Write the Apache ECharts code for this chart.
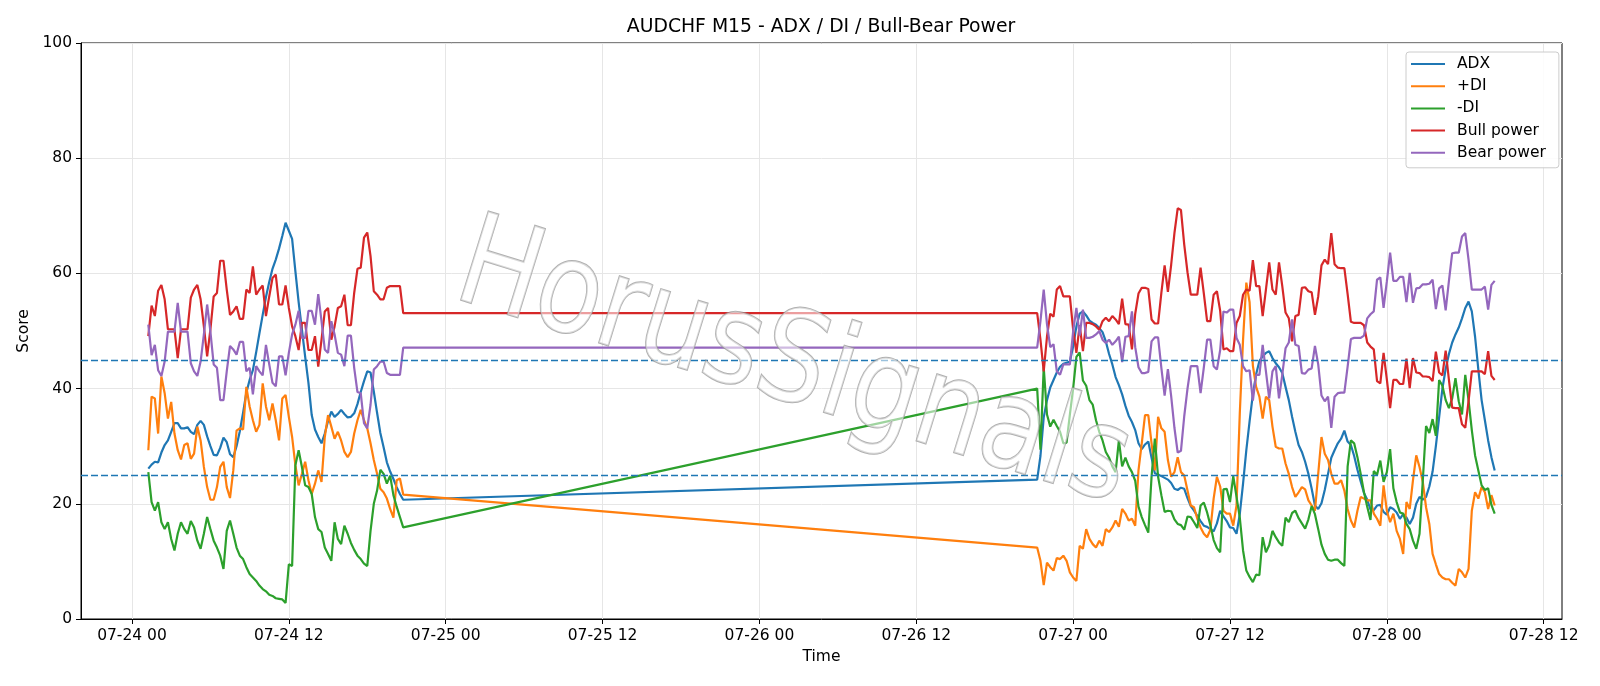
<!DOCTYPE html>
<html>
<head>
<meta charset="utf-8">
<title>AUDCHF M15 - ADX / DI / Bull-Bear Power</title>
<script src="https://cdn.jsdelivr.net/npm/echarts@6/dist/echarts.min.js"></script>
<style>
  html, body { margin: 0; padding: 0; background: #fff; }
  #chart { width: 1600px; height: 686px; }
</style>
</head>
<body>
<div id="chart"></div>
<script>
// M15 bars, two sessions with the weekend gap between them
const year = 2020
const seg1Start = '07-24 01:15'
const seg2Start = '07-26 21:15'

const xTickLabels = ['07-24 00', '07-24 12', '07-25 00', '07-25 12', '07-26 00',
  '07-26 12', '07-27 00', '07-27 12', '07-28 00', '07-28 12']
const yTicks = [0, 20, 40, 60, 80, 100]
const levels = [25, 45]

// session 1 (07-24 01:15 .. 20:45)
const adx1 = [26.1, 26.8, 27.3, 27.2, 28.9, 30.2, 31, 32.5, 34, 34,
  33.1, 33.1, 33.3, 32.5, 32.1, 33.7, 34.4, 33.7, 31.7, 30,
  28.5, 28.4, 29.7, 31.5, 30.7, 28.6, 28.1, 30, 32.6, 35.8,
  39.3, 41.5, 43.2, 46.3, 49.6, 52.8, 55.9, 58.5, 60.8, 62.4,
  64.3, 66.5, 68.8, 67.4, 66, 60.4, 55, 50.3, 45.5, 41,
  35.4, 32.9, 31.6, 30.5, 32.2, 34.4, 36, 35.1, 35.6, 36.3,
  35.6, 35, 35.1, 35.7, 37.3, 39.4, 41.3, 43, 42.8, 39.5,
  35.8, 32.3, 29.8, 27.2, 25.6, 24.3, 22.9, 21.7, 20.7]
const pdi1 = [29.3, 38.6, 38.3, 32.2, 42.1, 39.2, 34.8, 37.7, 32.2, 29.3,
  27.7, 30.2, 30.5, 27.8, 28.7, 33.4, 31, 26.4, 22.9, 20.7,
  20.7, 22.9, 26.4, 27.3, 22.9, 21, 25.8, 32.7, 33.1, 32.9,
  40.3, 36.9, 34.5, 32.5, 33.7, 40.9, 36.9, 34.5, 37.4, 34.5,
  31, 38.3, 38.9, 35.1, 31.6, 26.7, 23.2, 25.2, 27.3, 24.1,
  21.7, 23.5, 25.8, 23.8, 31.6, 35.4, 33.4, 31.3, 32.5, 31,
  29, 28.1, 29, 32.2, 34.5, 36.3, 34.5, 33.1, 30.5, 27.6,
  25.2, 22.6, 22, 20.9, 19.1, 17.6, 24.1, 24.4, 21.6]
const mdi1 = [25.5, 20.3, 18.8, 20.3, 16.8, 15.6, 16.8, 13.9, 11.9, 14.8,
  16.8, 15.6, 14.8, 17, 15.9, 13.6, 12.2, 14.8, 17.7, 15.6,
  13.6, 12.4, 11, 8.7, 15.3, 17.1, 14.8, 12.4, 11, 10.4,
  9, 7.8, 7.2, 6.6, 5.8, 5.2, 4.8, 4.2, 4, 3.6,
  3.5, 3.4, 2.8, 9.5, 9.2, 26.7, 29.3, 26.4, 23.2, 22.9,
  21.7, 17.7, 15.6, 15.1, 12.4, 11.3, 10.1, 16.8, 13.9, 13,
  16.2, 14.8, 13.2, 12, 11, 10.4, 9.6, 9.2, 15.3, 20,
  22.3, 25.9, 25.2, 23.5, 24.9, 21.5, 19.5, 17.7, 15.9]
const bull1 = [49.1, 54.4, 52.6, 57, 58, 55.5, 50.3, 50.3, 50.3, 45.3,
  50.3, 50.3, 50.3, 55.8, 57.2, 58, 55.5, 50.8, 45.6, 50.3,
  56, 56.6, 62.2, 62.2, 57.2, 52.8, 53.4, 54.3, 52.1, 52.1,
  57.2, 56.6, 61.2, 56.3, 57.2, 57.9, 52.6, 56, 59.2, 59.8,
  54.6, 54.6, 57.9, 54, 50.8, 49.1, 46.7, 51.4, 51.4, 46.7,
  46.7, 49.1, 43.8, 48.5, 53.4, 54, 48.5, 50.8, 54, 54.3,
  56.3, 51, 51, 56.6, 60.8, 61, 66.2, 67.1, 63, 56.9,
  56.3, 55.5, 55.5, 57.5, 57.8, 57.8, 57.8, 57.8, 53.1]
const bear1 = [51.1, 45.8, 47.6, 43.2, 42.2, 44.7, 49.9, 49.9, 49.9, 54.9,
  49.9, 49.9, 49.9, 44.4, 43, 42.2, 44.7, 49.4, 54.6, 49.9,
  44.2, 43.6, 38, 38, 43, 47.4, 46.8, 45.9, 48.1, 48.1,
  43, 43.6, 39, 43.9, 43, 42.3, 47.6, 44.2, 41, 40.4,
  45.6, 45.6, 42.3, 46.2, 49.4, 51.1, 53.5, 48.8, 48.8, 53.5,
  53.5, 51.1, 56.4, 51.7, 46.8, 46.2, 51.7, 49.4, 46.2, 45.9,
  43.9, 49.2, 49.2, 43.6, 39.4, 39.2, 34, 33.1, 37.2, 43.3,
  43.9, 44.7, 44.7, 42.7, 42.4, 42.4, 42.4, 42.4, 47.1]

// session 2 (07-26 21:15 .. 07-28 08:15)
const adx2 = [24.2, 28.3, 35, 38, 40.2, 41.5, 42.8, 43.8, 44.3, 44.5,
  44.7, 47.3, 50.8, 53, 53.4, 52.7, 51.8, 51.4, 51.1, 50.5,
  49.8, 48.2, 46, 44.2, 42, 40.6, 39, 37, 35.3, 34.2,
  32.8, 30.5, 29.5, 30.3, 30.8, 28, 25.3, 25.1, 24.8, 24.5,
  24.2, 23.6, 22.6, 22.4, 22.8, 22.6, 21, 19.6, 18.8, 17.9,
  17, 16.2, 16, 15.6, 15.2, 16.6, 18.8, 17.8, 17, 15.9,
  15.8, 14.8, 18.2, 23.5, 29.3, 34.3, 39, 42.5, 44.8, 45.6,
  46.2, 46.5, 45.3, 44.4, 43.7, 42.7, 40.3, 38, 35.1, 32.5,
  30.2, 29, 27.3, 25.2, 22.6, 19.7, 19.1, 20.1, 22.4, 25.2,
  28, 29.3, 30.5, 31.3, 32.7, 30.8, 30.2, 28.3, 25.9, 23.9,
  21.9, 20.7, 19, 18.9, 19.7, 19.8, 18.6, 18.1, 19.4, 19.1,
  18.5, 17.4, 18.2, 17.6, 16.5, 17.6, 20, 21.2, 20.7, 21.2,
  23, 25.6, 30, 35, 40, 43.4, 46, 48, 49.4, 50.6,
  52.2, 54, 55.1, 53.4, 49, 43.3, 38, 34.5, 31, 28.1, 25.8]
const pdi2 = [12.4, 10.1, 5.9, 9.8, 9, 8.4, 10.6, 10.4, 11, 10.1,
  8.1, 7.2, 6.6, 12.7, 12.2, 15.6, 13.9, 13, 12.4, 13.6,
  12.7, 15.6, 15.1, 15.9, 17.1, 16, 19.1, 18.3, 17.1, 17.4,
  16.2, 25.8, 30.5, 35.4, 35.4, 30.5, 25.8, 35.1, 33.1, 32.5,
  27.6, 24.7, 25.5, 28.1, 25.5, 24.9, 22.3, 19.7, 19.4, 17.4,
  15.9, 14.8, 14.2, 15.5, 20.9, 24.7, 23, 18.8, 18.3, 18.3,
  16.2, 19.7, 35.7, 48.5, 58.4, 55, 44, 40.3, 38.6, 34.8,
  38.6, 38, 33.4, 29.9, 29.6, 29.6, 27, 25.2, 22.9, 21.2,
  22, 22.9, 22.5, 20.6, 19.7, 18.8, 25.2, 31.6, 28.7, 27.6,
  25.2, 23.5, 23.5, 24.1, 22.3, 19.1, 17.1, 15.9, 18.8, 21.2,
  20.9, 20.6, 20.6, 18.3, 17.4, 16.2, 23.2, 18.8, 16.8, 18.3,
  15.3, 13.9, 11.3, 20.3, 19.1, 24.1, 28.4, 26.4, 23.8, 19.4,
  16.5, 11.3, 9.5, 7.8, 7.2, 6.9, 6.9, 6.3, 5.8, 8.7,
  8.1, 7.2, 8.7, 18.8, 22, 20.9, 22.9, 22, 19.1, 21.5, 19.7]
const mdi2 = [40, 29.4, 43.7, 35.5, 33.4, 34.6, 33.5, 32.5, 30.5, 30.6,
  35.5, 40, 45.5, 46.3, 41.4, 40.5, 38, 37.2, 34.5, 32.5,
  31, 29, 28, 26.5, 25.5, 31, 26.5, 28, 26.5, 25.5,
  24, 19.5, 17.7, 16.3, 15, 24.7, 31.3, 24.7, 21.5, 18.6,
  18.8, 18.7, 17.3, 16.5, 16.3, 15.5, 17.8, 17.7, 16.8, 15.8,
  19.7, 20.2, 18.5, 16.3, 13.7, 12.3, 11.6, 22.5, 22.6, 20.3,
  24.8, 21.2, 17.6, 11.9, 8.4, 7.3, 6.4, 7.7, 7.6, 14.2,
  11.6, 12.8, 15.3, 14.2, 13.3, 12.7, 17.6, 16.8, 18.4, 18.8,
  17.5, 16.6, 15.7, 17.3, 19.6, 18.2, 15.6, 12.9, 11.3, 10.3,
  10.1, 10.3, 10.3, 9.7, 9.2, 26.5, 31, 30.5, 28.1, 25.2,
  22, 19.5, 17.2, 25.7, 25, 27.5, 23.8, 25.5, 29.5, 22.7,
  20.3, 18.5, 18.3, 16.5, 15.6, 13.6, 12.2, 14.8, 24, 33.5,
  32.3, 34.7, 31.8, 41.5, 40.5, 38, 36.6, 38.3, 41.8, 37.8,
  35.5, 42.4, 38, 32.8, 28.4, 25.8, 23.2, 22.4, 22.7, 19.8, 18.3]
const bull2 = [53.1, 48.5, 43, 49, 53, 52.5, 57.2, 57.8, 56, 56,
  56, 50.3, 46.2, 51, 46.5, 51.4, 51.4, 51.2, 50.8, 50.2,
  51.7, 52.3, 51.7, 52.6, 52, 51.2, 55.6, 51.2, 51.1, 46.8,
  53, 56.5, 57.5, 57.5, 57.3, 52, 51.3, 51.3, 56.6, 61.4,
  56.8, 61.5, 67, 71.3, 71, 65, 60.2, 56.3, 56.3, 56.3,
  61, 56.5, 51.7, 51.7, 56.3, 56.9, 53.5, 46.8, 47, 46.5,
  46.5, 51.4, 52.6, 56.3, 57.2, 57, 62.3, 57.8, 57.8, 52.6,
  57.2, 61.9, 57.2, 56.3, 61.9, 57.8, 53.2, 52.2, 48.2, 52.6,
  52.8, 57.5, 57.6, 56.9, 56.7, 52.8, 56, 61.4, 62.4, 61.6,
  67, 61.6, 61, 60.9, 60.9, 56.4, 51.6, 51.4, 51.4, 51.4,
  51, 48, 47.3, 46.8, 41.3, 40.9, 46.2, 41.6, 36.6, 41.5,
  41.5, 40.8, 40.8, 45.2, 40.1, 45.3, 42.8, 42.7, 42.1, 42.1,
  42, 41.3, 46.4, 42.8, 42.3, 46.6, 41.5, 36.7, 36.6, 36.6,
  33.8, 33.2, 37.8, 43, 43, 43, 43, 42.5, 46.5, 42.2, 41.5]
const bear2 = [47.1, 51.7, 57.2, 51.2, 47.2, 47.7, 43, 42.4, 44.2, 44.2,
  44.2, 49.9, 54, 49.2, 53.7, 48.8, 48.8, 49, 49.4, 50,
  48.5, 47.9, 48.5, 47.6, 48.2, 49, 44.6, 49, 49.1, 53.4,
  47.2, 43.7, 42.7, 42.7, 42.9, 48.2, 48.9, 48.9, 43.6, 38.8,
  43.4, 38.7, 33.2, 28.9, 29.2, 35.2, 40, 43.9, 43.9, 43.9,
  39.2, 43.7, 48.5, 48.5, 43.9, 43.3, 46.7, 53.4, 53.2, 53.7,
  53.7, 48.8, 47.6, 43.9, 43, 43.2, 37.9, 42.4, 42.4, 47.6,
  43, 38.3, 43, 43.9, 38.3, 42.4, 47, 48, 52, 47.6,
  47.4, 42.7, 42.6, 43.3, 43.5, 47.4, 44.2, 38.8, 37.8, 38.6,
  33.2, 38.6, 39.2, 39.3, 39.3, 43.8, 48.6, 48.8, 48.8, 48.8,
  49.2, 52.2, 52.9, 53.4, 58.9, 59.3, 54, 58.6, 63.6, 58.7,
  58.7, 59.4, 59.4, 55, 60.1, 54.9, 57.4, 57.5, 58.1, 58.1,
  58.2, 58.9, 53.8, 57.4, 57.9, 53.6, 58.7, 63.5, 63.6, 63.6,
  66.4, 67, 62.4, 57.2, 57.2, 57.2, 57.2, 57.7, 53.7, 58, 58.7]

const BAR = 15 * 60 * 1000

function toTime(s) {
  const [md, hm] = s.split(' ')
  const [mo, d] = md.split('-').map(Number)
  const [h, mi] = hm.split(':').map(Number)
  return new Date(year, mo - 1, d, h, mi || 0).getTime()
}
function pad(n) { return (n < 10 ? '0' : '') + n }
function fmt(v) {
  const d = new Date(v)
  return pad(d.getMonth() + 1) + '-' + pad(d.getDate()) + ' ' + pad(d.getHours())
}

const t1 = adx1.map((_, i) => toTime(seg1Start) + i * BAR)
const t2 = adx2.map((_, i) => toTime(seg2Start) + i * BAR)
const times = t1.concat(t2)
const xTickValues = xTickLabels.map(toTime)

// matplotlib style 5% margins on the time axis
const span = times[times.length - 1] - times[0]
const xMin = times[0] - span * 0.05
const xMax = times[times.length - 1] + span * 0.05

function pairs(a, b) {
  const v = a.concat(b)
  return times.map((t, i) => [t, v[i]])
}

const names = ['ADX', '+DI', '-DI', 'Bull power', 'Bear power']
const colors = ['#1f77b4', '#ff7f0e', '#2ca02c', '#d62728', '#9467bd']
const seriesData = [pairs(adx1, adx2), pairs(pdi1, pdi2), pairs(mdi1, mdi2),
  pairs(bull1, bull2), pairs(bear1, bear2)]

const font = 'DejaVu Sans'
const fs = 15.5
const chart = echarts.init(document.getElementById('chart'))

const series = names.map((name, i) => ({
  name: name,
  type: 'line',
  data: seriesData[i],
  showSymbol: false,
  symbol: 'none',
  animation: false,
  z: 3,
  lineStyle: { color: colors[i], width: 2.2 },
  itemStyle: { color: colors[i] }
}))
series[0].markLine = {
  silent: true,
  symbol: 'none',
  label: { show: false },
  lineStyle: { color: '#1f77b4', type: [7, 3], width: 1.4 },
  data: levels.map(v => ({ yAxis: v }))
}

chart.setOption({
  backgroundColor: '#fff',
  animation: false,
  grid: {
    left: 81, right: 38, top: 43, bottom: 67,
    show: true, borderColor: '#000', borderWidth: 1, backgroundColor: 'transparent'
  },
  legend: {
    data: names,
    orient: 'vertical',
    left: 1406, top: 52,
    icon: 'rect',
    itemWidth: 34, itemHeight: 2,
    itemGap: 6.2,
    padding: [4, 13, 7, 5],
    z: 20,
    backgroundColor: 'rgba(255,255,255,0.85)',
    borderColor: '#cccccc', borderWidth: 1, borderRadius: 3,
    textStyle: { fontFamily: font, fontSize: fs, color: '#000', lineHeight: 16, padding: [0, 0, 0, 7] }
  },
  xAxis: {
    type: 'value',
    min: xMin, max: xMax,
    name: 'Time', nameLocation: 'middle', nameGap: 30,
    nameTextStyle: { fontFamily: font, fontSize: fs, color: '#000' },
    axisLine: { onZero: false, lineStyle: { color: '#000', width: 1 } },
    axisTick: { customValues: xTickValues, length: 5, lineStyle: { color: '#000' } },
    axisLabel: {
      customValues: xTickValues, formatter: fmt, margin: 9,
      fontFamily: font, fontSize: fs, color: '#000'
    },
    splitLine: { show: true, lineStyle: { color: '#e6e6e6', width: 1 } }
  },
  yAxis: {
    type: 'value',
    min: 0, max: 100, interval: yTicks[1] - yTicks[0],
    name: 'Score', nameLocation: 'middle', nameGap: 47,
    nameTextStyle: { fontFamily: font, fontSize: fs, color: '#000' },
    axisLine: { show: true, lineStyle: { color: '#000', width: 1 } },
    axisTick: { show: true, length: 5, lineStyle: { color: '#000' } },
    axisLabel: { margin: 9, fontFamily: font, fontSize: fs, color: '#000' },
    splitLine: { show: true, lineStyle: { color: '#e6e6e6', width: 1 } }
  },
  graphic: [
    {
      type: 'text', x: 821, y: 27, z: 10,
      style: {
        text: 'AUDCHF M15 - ADX / DI / Bull-Bear Power',
        font: '18.8px "DejaVu Sans"', fill: '#000',
        textAlign: 'center', textVerticalAlign: 'middle'
      }
    },
    {
      // watermark, drawn over the plot with a see-through white body
      type: 'text', x: 793, y: 368, rotation: -0.3, scaleX: 0.84, z: 10, silent: true,
      style: {
        text: 'HorusSignals',
        font: '127px "DejaVu Sans"',
        fill: 'rgba(255,255,255,0.55)',
        stroke: 'rgba(150,150,150,0.75)', lineWidth: 2,
        shadowColor: 'rgba(0,0,0,0.3)', shadowBlur: 2, shadowOffsetX: 3, shadowOffsetY: 3,
        textAlign: 'center', textVerticalAlign: 'middle'
      }
    }
  ],
  series: series
})
</script>
</body>
</html>
